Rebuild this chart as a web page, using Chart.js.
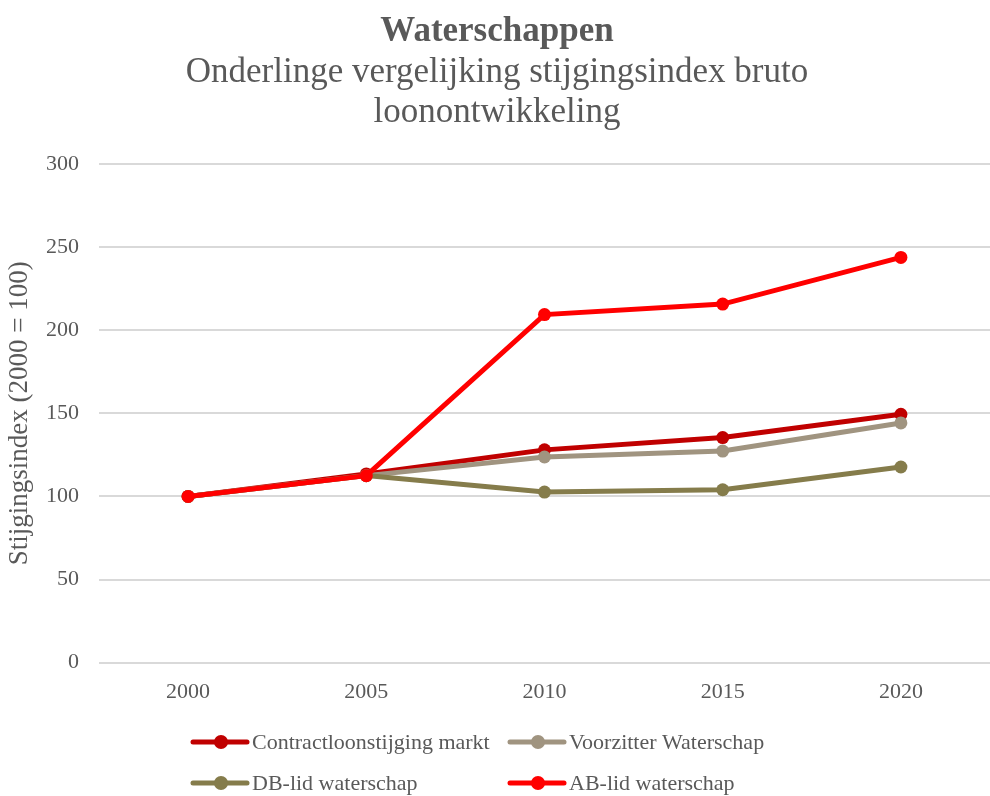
<!DOCTYPE html>
<html>
<head>
<meta charset="utf-8">
<script src="https://cdn.jsdelivr.net/npm/chart.js@4.4.1/dist/chart.umd.min.js"></script>
<style>
  html, body { margin: 0; padding: 0; background: #fff; overflow: hidden; }
  #wrap { width: 990px; height: 796px; position: relative; }
  canvas { display: block; }
</style>
</head>
<body>
<div id="wrap"><canvas id="lineChart"></canvas></div>
<script>
var years = ['2000', '2005', '2010', '2015', '2020'];
var contractMarkt = [100, 113.5, 128, 135.4, 149.4];
var voorzitter = [100, 112.5, 123.7, 127.3, 144.2];
var dbLid = [100, 112.5, 102.6, 104, 117.7];
var abLid = [100, 112.5, 209.4, 215.7, 243.8];
var yTicks = [0, 50, 100, 150, 200, 250, 300];

var serif = "'Liberation Serif', 'DejaVu Serif', serif";
var grey = '#595959';

// legend drawn by hand in a 2x2 grid, like the original
var gridLegend = {
    id: 'gridLegend',
    afterDraw: function(chart) {
        var ctx = chart.ctx;
        var cols = [193, 510];
        var rows = [742, 783];
        var items = chart.data.datasets.slice()
            .sort(function(a, b) { return a.legendPos - b.legendPos; });
        ctx.save();
        ctx.font = '22px ' + serif;
        ctx.textBaseline = 'middle';
        items.forEach(function(ds, i) {
            var x = cols[i % 2];
            var y = rows[Math.floor(i / 2)];
            ctx.strokeStyle = ds.borderColor;
            ctx.lineWidth = 5;
            ctx.lineCap = 'round';
            ctx.beginPath();
            ctx.moveTo(x, y);
            ctx.lineTo(x + 54, y);
            ctx.stroke();
            ctx.fillStyle = ds.backgroundColor;
            ctx.beginPath();
            ctx.arc(x + 28, y, 7, 0, Math.PI * 2);
            ctx.fill();
            ctx.fillStyle = grey;
            ctx.fillText(ds.label, x + 59, y + 1);
        });
        ctx.restore();
    }
};

var ctx = document.getElementById('lineChart').getContext('2d');
var myLineChart = new Chart(ctx, {
    type: 'line',
    data: {
        labels: years,
        datasets: [{
            label: 'Contractloonstijging markt',
            data: contractMarkt,
            borderColor: '#c00000',
            backgroundColor: '#c00000',
            order: 3,
            legendPos: 0
        }, {
            label: 'Voorzitter Waterschap',
            data: voorzitter,
            borderColor: '#a09480',
            backgroundColor: '#a09480',
            order: 2,
            legendPos: 1
        }, {
            label: 'DB-lid waterschap',
            data: dbLid,
            borderColor: '#857c4b',
            backgroundColor: '#857c4b',
            order: 1,
            legendPos: 2
        }, {
            label: 'AB-lid waterschap',
            data: abLid,
            borderColor: '#ff0000',
            backgroundColor: '#ff0000',
            order: 0,
            legendPos: 3
        }]
    },
    options: {
        responsive: true,
        maintainAspectRatio: false,
        animation: false,
        elements: {
            line: { borderWidth: 5, tension: 0 },
            point: { radius: 6.5, borderWidth: 0 }
        },
        layout: {
            autoPadding: false,
            padding: { left: 4, right: 0, top: 11, bottom: 75 }
        },
        scales: {
            x: {
                offset: true,
                grid: { display: false, drawTicks: false },
                border: { display: false },
                ticks: {
                    color: grey,
                    font: { family: serif, size: 22 },
                    padding: 16
                },
                afterFit: function(scale) {
                    scale.paddingLeft = 0;
                    scale.paddingRight = 0;
                }
            },
            y: {
                min: 0,
                max: 300,
                afterBuildTicks: function(axis) {
                    axis.ticks = yTicks.map(function(v) { return { value: v }; });
                },
                afterFit: function(scale) {
                    scale.width = 95;
                },
                grid: { color: '#d9d9d9', lineWidth: 2, drawTicks: false },
                border: { display: false },
                ticks: {
                    color: grey,
                    font: { family: serif, size: 22 },
                    padding: 20
                },
                title: {
                    display: true,
                    text: 'Stijgingsindex (2000 = 100)',
                    color: grey,
                    font: { family: serif, size: 27 },
                    padding: { top: 0, bottom: 8 }
                }
            }
        },
        plugins: {
            legend: { display: false },
            tooltip: { enabled: false },
            title: {
                display: true,
                text: 'Waterschappen',
                color: grey,
                font: { family: serif, size: 35, weight: 'bold', lineHeight: 1.2 },
                padding: { top: 0, bottom: 0 }
            },
            subtitle: {
                display: true,
                text: ['Onderlinge vergelijking stijgingsindex bruto', 'loonontwikkeling'],
                color: grey,
                font: { family: serif, size: 35, lineHeight: 1.143 },
                padding: { top: 0, bottom: 31 }
            }
        }
    },
    plugins: [gridLegend]
});
</script>
</body>
</html>
